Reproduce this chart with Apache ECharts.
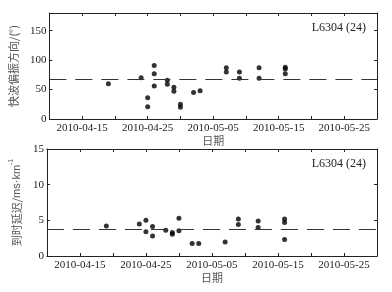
<!DOCTYPE html>
<html><head><meta charset="utf-8">
<script src="https://cdn.jsdelivr.net/npm/echarts@6/dist/echarts.min.js"></script>
<style>html,body{margin:0;padding:0;background:#fff}#c{width:392px;height:292px}</style>
</head><body><div id="c"></div>
<script>
var startDate = '2010-04-10';
var endDate = '2010-05-30';
var xTickLabels = ['2010-04-15','2010-04-25','2010-05-05','2010-05-15','2010-05-25'];
var stationLabel = 'L6304 (24)';

var dirDates = ['2010-04-19','2010-04-24','2010-04-25','2010-04-25','2010-04-26','2010-04-26','2010-04-26',
  '2010-04-28','2010-04-28','2010-04-29','2010-04-29','2010-04-30','2010-04-30','2010-05-02','2010-05-03',
  '2010-05-07','2010-05-07','2010-05-09','2010-05-09','2010-05-12','2010-05-12','2010-05-16','2010-05-16','2010-05-16'];
var dirValues = [60,70,36,21,91,77,56,66,59,54,47,25,20,45,48,87,80,80,69,87,69,88,85,77];
var dirMean = 67;

var delayDates = ['2010-04-19','2010-04-24','2010-04-25','2010-04-25','2010-04-26','2010-04-26',
  '2010-04-28','2010-04-29','2010-04-29','2010-04-30','2010-04-30','2010-05-02','2010-05-03',
  '2010-05-07','2010-05-09','2010-05-09','2010-05-12','2010-05-12','2010-05-16','2010-05-16','2010-05-16'];
var delayValues = [4.2,4.5,5.0,3.4,4.15,2.8,3.6,3.3,3.05,5.3,3.55,1.75,1.75,1.95,5.2,4.4,4.9,4.0,5.2,4.7,2.3];
var delayMean = 3.8;

function dayIndex(s){
  var p = s.split('-');
  var t = Date.UTC(+p[0], +p[1]-1, +p[2]);
  var q = startDate.split('-');
  var t0 = Date.UTC(+q[0], +q[1]-1, +q[2]);
  return Math.round((t - t0)/86400000);
}
var xMax = dayIndex(endDate);
var labelMap = {};
xTickLabels.forEach(function(l){ labelMap[dayIndex(l)] = l; });

var serif = 'Liberation Serif';
var cjk = 'Noto Sans CJK SC';
var sans = 'Liberation Sans';

function xAxes(gi){
  return [{
    gridIndex: gi, type: 'value', min: 0, max: xMax, interval: 5, position: 'bottom',
    name: '日期', nameLocation: 'middle', nameGap: 15,
    nameTextStyle: {fontFamily: cjk, fontSize: 11, color: '#555'},
    axisLine: {show: true, onZero: false, lineStyle: {color: '#222', width: 1}},
    axisTick: {show: true, inside: true, length: 3, lineStyle: {color: '#222'}},
    axisLabel: {show: true, margin: 4, fontFamily: serif, fontSize: 11, color: '#222',
      showMinLabel: true, showMaxLabel: true,
      formatter: function(v){ return labelMap[v] || ''; }},
    splitLine: {show: false}
  },{
    gridIndex: gi, type: 'value', min: 0, max: xMax, interval: 5, position: 'top',
    axisLine: {show: true, onZero: false, lineStyle: {color: '#222', width: 1}},
    axisTick: {show: true, inside: true, length: 3, lineStyle: {color: '#222'}},
    axisLabel: {show: false}, splitLine: {show: false}
  }];
}
function yAxes(gi, max, interval, name, gap, rich){
  var ns = {fontFamily: cjk, fontSize: 11, color: '#555'};
  if (rich) ns.rich = rich;
  return [{
    gridIndex: gi, type: 'value', min: 0, max: max, interval: interval, position: 'left',
    name: name, nameLocation: 'middle', nameGap: gap, nameRotate: 90,
    nameTextStyle: ns,
    axisLine: {show: true, onZero: false, lineStyle: {color: '#222', width: 1}},
    axisTick: {show: true, inside: true, length: 3, lineStyle: {color: '#222'}},
    axisLabel: {show: true, margin: 3, fontFamily: serif, fontSize: 11, color: '#222', showMaxLabel: max % interval === 0},
    splitLine: {show: false}
  },{
    gridIndex: gi, type: 'value', min: 0, max: max, interval: interval, position: 'right',
    axisLine: {show: true, onZero: false, lineStyle: {color: '#222', width: 1}},
    axisTick: {show: true, inside: true, length: 3, lineStyle: {color: '#222'}},
    axisLabel: {show: false}, splitLine: {show: false}
  }];
}

var chart = echarts.init(document.getElementById('c'), null, {renderer: 'canvas'});
var xa = xAxes(0).concat(xAxes(1));
var ya = yAxes(0, 180, 50, '快波偏振方向/(°)', 14, null)
  .concat(yAxes(1, 15, 5, '{a|到时延迟/}{b|ms·km}{s|-1}', 9, {
    a: {fontFamily: cjk, fontSize: 11, color: '#555', lineHeight: 14, verticalAlign: 'bottom'},
    b: {fontFamily: sans, fontSize: 11, color: '#555', lineHeight: 14, verticalAlign: 'bottom'},
    s: {fontFamily: sans, fontSize: 7, color: '#555', lineHeight: 14, verticalAlign: 'top', padding: [0,0,6,0]}
  }));

function pts(d, v){ return d.map(function(s,i){ return [dayIndex(s), v[i]]; }); }
function ml(val){
  return {silent: true, symbol: 'none', label: {show: false}, animation: false,
    lineStyle: {color: '#333', width: 1, type: [17, 9]}, data: [{yAxis: val}]};
}

chart.setOption({
  animation: false,
  backgroundColor: '#fff',
  grid: [
    {left: 43, right: 15, top: 13, height: 106, show: false},
    {left: 43, right: 15, top: 149, height: 107, show: false}
  ],
  xAxis: xa,
  yAxis: ya,
  graphic: [
    {type: 'text', right: 26, top: 22, style: {text: stationLabel, font: '12px "Liberation Serif"', fill: '#222'}},
    {type: 'text', right: 26, top: 158, style: {text: stationLabel, font: '12px "Liberation Serif"', fill: '#222'}}
  ],
  series: [
    {type: 'scatter', xAxisIndex: 0, yAxisIndex: 0, symbolSize: 5, itemStyle: {color: '#000'},
      data: pts(dirDates, dirValues), markLine: ml(dirMean), z: 3},
    {type: 'scatter', xAxisIndex: 2, yAxisIndex: 2, symbolSize: 5, itemStyle: {color: '#000'},
      data: pts(delayDates, delayValues), markLine: ml(delayMean), z: 3}
  ]
});
</script></body></html>
